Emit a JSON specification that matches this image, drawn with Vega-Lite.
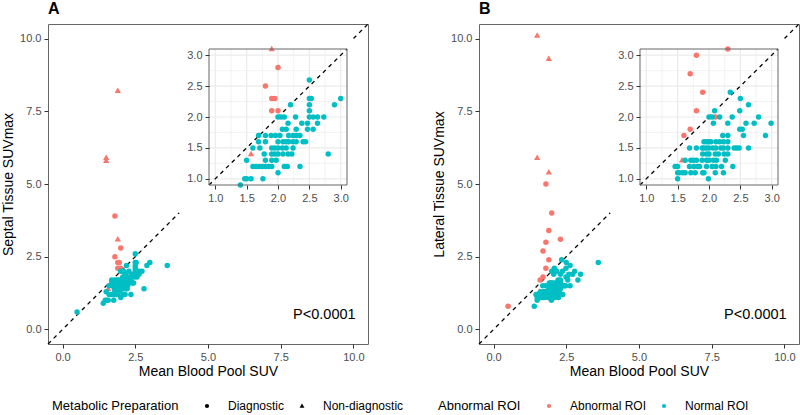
{
  "$schema": "https://vega.github.io/schema/vega-lite/v6.json",
  "background": "white",
  "padding": {"left": 1, "top": 0, "right": 0, "bottom": 0},
  "spacing": 62,
  "datasets": {
    "a": [
      {"x": 1.8, "y": 3.9, "roi": "Abnormal ROI", "prep": "Diagnostic"},
      {"x": 2.0, "y": 2.8, "roi": "Abnormal ROI", "prep": "Diagnostic"},
      {"x": 1.8, "y": 2.5, "roi": "Abnormal ROI", "prep": "Diagnostic"},
      {"x": 1.9, "y": 2.3, "roi": "Abnormal ROI", "prep": "Diagnostic"},
      {"x": 1.95, "y": 2.3, "roi": "Abnormal ROI", "prep": "Diagnostic"},
      {"x": 1.9, "y": 2.1, "roi": "Abnormal ROI", "prep": "Diagnostic"},
      {"x": 2.0, "y": 2.1, "roi": "Abnormal ROI", "prep": "Diagnostic"},
      {"x": 1.9, "y": 8.2, "roi": "Abnormal ROI", "prep": "Non-diagnostic"},
      {"x": 1.5, "y": 5.9, "roi": "Abnormal ROI", "prep": "Non-diagnostic"},
      {"x": 1.5, "y": 5.8, "roi": "Abnormal ROI", "prep": "Non-diagnostic"},
      {"x": 1.9, "y": 3.1, "roi": "Abnormal ROI", "prep": "Non-diagnostic"},
      {"x": 1.57, "y": 1.4, "roi": "Abnormal ROI", "prep": "Non-diagnostic"},
      {"x": 0.5, "y": 0.6, "roi": "Normal ROI", "prep": "Diagnostic"},
      {"x": 3.6, "y": 2.2, "roi": "Normal ROI", "prep": "Diagnostic"},
      {"x": 1.4, "y": 0.9, "roi": "Normal ROI", "prep": "Diagnostic"},
      {"x": 2.5, "y": 2.6, "roi": "Normal ROI", "prep": "Diagnostic"},
      {"x": 3.0, "y": 2.3, "roi": "Normal ROI", "prep": "Diagnostic"},
      {"x": 2.9, "y": 2.2, "roi": "Normal ROI", "prep": "Diagnostic"},
      {"x": 2.5, "y": 2.3, "roi": "Normal ROI", "prep": "Diagnostic"},
      {"x": 2.53, "y": 2.3, "roi": "Normal ROI", "prep": "Diagnostic"},
      {"x": 2.5, "y": 2.2, "roi": "Normal ROI", "prep": "Diagnostic"},
      {"x": 2.2, "y": 2.2, "roi": "Normal ROI", "prep": "Diagnostic"},
      {"x": 2.5, "y": 2.1, "roi": "Normal ROI", "prep": "Diagnostic"},
      {"x": 2.0, "y": 2.0, "roi": "Normal ROI", "prep": "Diagnostic"},
      {"x": 2.05, "y": 2.0, "roi": "Normal ROI", "prep": "Diagnostic"},
      {"x": 2.1, "y": 2.0, "roi": "Normal ROI", "prep": "Diagnostic"},
      {"x": 2.28, "y": 2.0, "roi": "Normal ROI", "prep": "Diagnostic"},
      {"x": 2.5, "y": 2.0, "roi": "Normal ROI", "prep": "Diagnostic"},
      {"x": 2.56, "y": 2.0, "roi": "Normal ROI", "prep": "Diagnostic"},
      {"x": 2.63, "y": 2.0, "roi": "Normal ROI", "prep": "Diagnostic"},
      {"x": 2.73, "y": 2.0, "roi": "Normal ROI", "prep": "Diagnostic"},
      {"x": 2.16, "y": 1.9, "roi": "Normal ROI", "prep": "Diagnostic"},
      {"x": 2.38, "y": 1.9, "roi": "Normal ROI", "prep": "Diagnostic"},
      {"x": 2.47, "y": 1.9, "roi": "Normal ROI", "prep": "Diagnostic"},
      {"x": 2.63, "y": 1.9, "roi": "Normal ROI", "prep": "Diagnostic"},
      {"x": 2.07, "y": 1.8, "roi": "Normal ROI", "prep": "Diagnostic"},
      {"x": 2.13, "y": 1.8, "roi": "Normal ROI", "prep": "Diagnostic"},
      {"x": 2.29, "y": 1.8, "roi": "Normal ROI", "prep": "Diagnostic"},
      {"x": 2.47, "y": 1.8, "roi": "Normal ROI", "prep": "Diagnostic"},
      {"x": 2.56, "y": 1.8, "roi": "Normal ROI", "prep": "Diagnostic"},
      {"x": 1.69, "y": 1.7, "roi": "Normal ROI", "prep": "Diagnostic"},
      {"x": 1.8, "y": 1.7, "roi": "Normal ROI", "prep": "Diagnostic"},
      {"x": 1.89, "y": 1.7, "roi": "Normal ROI", "prep": "Diagnostic"},
      {"x": 1.96, "y": 1.7, "roi": "Normal ROI", "prep": "Diagnostic"},
      {"x": 2.03, "y": 1.7, "roi": "Normal ROI", "prep": "Diagnostic"},
      {"x": 2.17, "y": 1.7, "roi": "Normal ROI", "prep": "Diagnostic"},
      {"x": 2.24, "y": 1.7, "roi": "Normal ROI", "prep": "Diagnostic"},
      {"x": 2.29, "y": 1.7, "roi": "Normal ROI", "prep": "Diagnostic"},
      {"x": 2.35, "y": 1.7, "roi": "Normal ROI", "prep": "Diagnostic"},
      {"x": 1.69, "y": 1.6, "roi": "Normal ROI", "prep": "Diagnostic"},
      {"x": 1.8, "y": 1.6, "roi": "Normal ROI", "prep": "Diagnostic"},
      {"x": 2.0, "y": 1.6, "roi": "Normal ROI", "prep": "Diagnostic"},
      {"x": 2.08, "y": 1.6, "roi": "Normal ROI", "prep": "Diagnostic"},
      {"x": 2.13, "y": 1.6, "roi": "Normal ROI", "prep": "Diagnostic"},
      {"x": 2.17, "y": 1.6, "roi": "Normal ROI", "prep": "Diagnostic"},
      {"x": 2.24, "y": 1.6, "roi": "Normal ROI", "prep": "Diagnostic"},
      {"x": 2.29, "y": 1.6, "roi": "Normal ROI", "prep": "Diagnostic"},
      {"x": 2.4, "y": 1.6, "roi": "Normal ROI", "prep": "Diagnostic"},
      {"x": 2.44, "y": 1.6, "roi": "Normal ROI", "prep": "Diagnostic"},
      {"x": 1.6, "y": 1.5, "roi": "Normal ROI", "prep": "Diagnostic"},
      {"x": 1.71, "y": 1.5, "roi": "Normal ROI", "prep": "Diagnostic"},
      {"x": 1.9, "y": 1.5, "roi": "Normal ROI", "prep": "Diagnostic"},
      {"x": 1.95, "y": 1.5, "roi": "Normal ROI", "prep": "Diagnostic"},
      {"x": 2.0, "y": 1.5, "roi": "Normal ROI", "prep": "Diagnostic"},
      {"x": 2.07, "y": 1.5, "roi": "Normal ROI", "prep": "Diagnostic"},
      {"x": 2.13, "y": 1.5, "roi": "Normal ROI", "prep": "Diagnostic"},
      {"x": 2.24, "y": 1.5, "roi": "Normal ROI", "prep": "Diagnostic"},
      {"x": 1.78, "y": 1.4, "roi": "Normal ROI", "prep": "Diagnostic"},
      {"x": 1.9, "y": 1.4, "roi": "Normal ROI", "prep": "Diagnostic"},
      {"x": 1.95, "y": 1.4, "roi": "Normal ROI", "prep": "Diagnostic"},
      {"x": 2.0, "y": 1.4, "roi": "Normal ROI", "prep": "Diagnostic"},
      {"x": 2.08, "y": 1.4, "roi": "Normal ROI", "prep": "Diagnostic"},
      {"x": 2.16, "y": 1.4, "roi": "Normal ROI", "prep": "Diagnostic"},
      {"x": 2.22, "y": 1.4, "roi": "Normal ROI", "prep": "Diagnostic"},
      {"x": 2.8, "y": 1.4, "roi": "Normal ROI", "prep": "Diagnostic"},
      {"x": 1.5, "y": 1.3, "roi": "Normal ROI", "prep": "Diagnostic"},
      {"x": 1.8, "y": 1.3, "roi": "Normal ROI", "prep": "Diagnostic"},
      {"x": 1.9, "y": 1.3, "roi": "Normal ROI", "prep": "Diagnostic"},
      {"x": 1.97, "y": 1.3, "roi": "Normal ROI", "prep": "Diagnostic"},
      {"x": 1.6, "y": 1.2, "roi": "Normal ROI", "prep": "Diagnostic"},
      {"x": 1.65, "y": 1.2, "roi": "Normal ROI", "prep": "Diagnostic"},
      {"x": 1.7, "y": 1.2, "roi": "Normal ROI", "prep": "Diagnostic"},
      {"x": 1.75, "y": 1.2, "roi": "Normal ROI", "prep": "Diagnostic"},
      {"x": 1.8, "y": 1.2, "roi": "Normal ROI", "prep": "Diagnostic"},
      {"x": 1.85, "y": 1.2, "roi": "Normal ROI", "prep": "Diagnostic"},
      {"x": 1.9, "y": 1.2, "roi": "Normal ROI", "prep": "Diagnostic"},
      {"x": 2.1, "y": 1.2, "roi": "Normal ROI", "prep": "Diagnostic"},
      {"x": 2.15, "y": 1.2, "roi": "Normal ROI", "prep": "Diagnostic"},
      {"x": 2.35, "y": 1.2, "roi": "Normal ROI", "prep": "Diagnostic"},
      {"x": 2.0, "y": 1.1, "roi": "Normal ROI", "prep": "Diagnostic"},
      {"x": 1.47, "y": 1.0, "roi": "Normal ROI", "prep": "Diagnostic"},
      {"x": 1.5, "y": 1.0, "roi": "Normal ROI", "prep": "Diagnostic"},
      {"x": 1.57, "y": 1.0, "roi": "Normal ROI", "prep": "Diagnostic"},
      {"x": 1.76, "y": 1.0, "roi": "Normal ROI", "prep": "Diagnostic"}
    ],
    "b": [
      {"x": 0.5, "y": 0.8, "roi": "Abnormal ROI", "prep": "Diagnostic"},
      {"x": 1.8, "y": 5.0, "roi": "Abnormal ROI", "prep": "Diagnostic"},
      {"x": 2.0, "y": 4.0, "roi": "Abnormal ROI", "prep": "Diagnostic"},
      {"x": 1.9, "y": 3.4, "roi": "Abnormal ROI", "prep": "Diagnostic"},
      {"x": 1.8, "y": 3.0, "roi": "Abnormal ROI", "prep": "Diagnostic"},
      {"x": 2.3, "y": 3.1, "roi": "Abnormal ROI", "prep": "Diagnostic"},
      {"x": 1.7, "y": 2.7, "roi": "Abnormal ROI", "prep": "Diagnostic"},
      {"x": 1.9, "y": 2.4, "roi": "Abnormal ROI", "prep": "Diagnostic"},
      {"x": 1.8, "y": 2.1, "roi": "Abnormal ROI", "prep": "Diagnostic"},
      {"x": 2.1, "y": 2.0, "roi": "Abnormal ROI", "prep": "Diagnostic"},
      {"x": 1.7, "y": 1.8, "roi": "Abnormal ROI", "prep": "Diagnostic"},
      {"x": 1.6, "y": 1.7, "roi": "Abnormal ROI", "prep": "Diagnostic"},
      {"x": 1.5, "y": 10.1, "roi": "Abnormal ROI", "prep": "Non-diagnostic"},
      {"x": 1.9, "y": 9.3, "roi": "Abnormal ROI", "prep": "Non-diagnostic"},
      {"x": 1.5, "y": 5.9, "roi": "Abnormal ROI", "prep": "Non-diagnostic"},
      {"x": 1.9, "y": 5.4, "roi": "Abnormal ROI", "prep": "Non-diagnostic"},
      {"x": 1.57, "y": 1.3, "roi": "Abnormal ROI", "prep": "Non-diagnostic"},
      {"x": 1.4, "y": 0.8, "roi": "Normal ROI", "prep": "Diagnostic"},
      {"x": 3.6, "y": 2.3, "roi": "Normal ROI", "prep": "Diagnostic"},
      {"x": 2.34, "y": 2.4, "roi": "Normal ROI", "prep": "Diagnostic"},
      {"x": 2.5, "y": 2.3, "roi": "Normal ROI", "prep": "Diagnostic"},
      {"x": 2.63, "y": 2.2, "roi": "Normal ROI", "prep": "Diagnostic"},
      {"x": 2.09, "y": 2.1, "roi": "Normal ROI", "prep": "Diagnostic"},
      {"x": 2.49, "y": 2.1, "roi": "Normal ROI", "prep": "Diagnostic"},
      {"x": 2.0, "y": 2.0, "roi": "Normal ROI", "prep": "Diagnostic"},
      {"x": 2.05, "y": 2.0, "roi": "Normal ROI", "prep": "Diagnostic"},
      {"x": 2.17, "y": 2.0, "roi": "Normal ROI", "prep": "Diagnostic"},
      {"x": 2.37, "y": 2.0, "roi": "Normal ROI", "prep": "Diagnostic"},
      {"x": 2.79, "y": 2.0, "roi": "Normal ROI", "prep": "Diagnostic"},
      {"x": 2.07, "y": 1.9, "roi": "Normal ROI", "prep": "Diagnostic"},
      {"x": 2.3, "y": 1.9, "roi": "Normal ROI", "prep": "Diagnostic"},
      {"x": 2.59, "y": 1.9, "roi": "Normal ROI", "prep": "Diagnostic"},
      {"x": 2.72, "y": 1.9, "roi": "Normal ROI", "prep": "Diagnostic"},
      {"x": 2.99, "y": 1.9, "roi": "Normal ROI", "prep": "Diagnostic"},
      {"x": 2.49, "y": 1.8, "roi": "Normal ROI", "prep": "Diagnostic"},
      {"x": 2.53, "y": 1.8, "roi": "Normal ROI", "prep": "Diagnostic"},
      {"x": 2.22, "y": 1.7, "roi": "Normal ROI", "prep": "Diagnostic"},
      {"x": 2.3, "y": 1.7, "roi": "Normal ROI", "prep": "Diagnostic"},
      {"x": 2.55, "y": 1.7, "roi": "Normal ROI", "prep": "Diagnostic"},
      {"x": 2.9, "y": 1.7, "roi": "Normal ROI", "prep": "Diagnostic"},
      {"x": 1.92, "y": 1.6, "roi": "Normal ROI", "prep": "Diagnostic"},
      {"x": 1.96, "y": 1.6, "roi": "Normal ROI", "prep": "Diagnostic"},
      {"x": 1.99, "y": 1.6, "roi": "Normal ROI", "prep": "Diagnostic"},
      {"x": 2.03, "y": 1.6, "roi": "Normal ROI", "prep": "Diagnostic"},
      {"x": 2.11, "y": 1.6, "roi": "Normal ROI", "prep": "Diagnostic"},
      {"x": 2.17, "y": 1.6, "roi": "Normal ROI", "prep": "Diagnostic"},
      {"x": 2.23, "y": 1.6, "roi": "Normal ROI", "prep": "Diagnostic"},
      {"x": 2.3, "y": 1.6, "roi": "Normal ROI", "prep": "Diagnostic"},
      {"x": 1.69, "y": 1.5, "roi": "Normal ROI", "prep": "Diagnostic"},
      {"x": 1.8, "y": 1.5, "roi": "Normal ROI", "prep": "Diagnostic"},
      {"x": 1.89, "y": 1.5, "roi": "Normal ROI", "prep": "Diagnostic"},
      {"x": 1.92, "y": 1.5, "roi": "Normal ROI", "prep": "Diagnostic"},
      {"x": 1.96, "y": 1.5, "roi": "Normal ROI", "prep": "Diagnostic"},
      {"x": 2.0, "y": 1.5, "roi": "Normal ROI", "prep": "Diagnostic"},
      {"x": 2.06, "y": 1.5, "roi": "Normal ROI", "prep": "Diagnostic"},
      {"x": 2.11, "y": 1.5, "roi": "Normal ROI", "prep": "Diagnostic"},
      {"x": 2.19, "y": 1.5, "roi": "Normal ROI", "prep": "Diagnostic"},
      {"x": 2.23, "y": 1.5, "roi": "Normal ROI", "prep": "Diagnostic"},
      {"x": 2.3, "y": 1.5, "roi": "Normal ROI", "prep": "Diagnostic"},
      {"x": 2.4, "y": 1.5, "roi": "Normal ROI", "prep": "Diagnostic"},
      {"x": 2.44, "y": 1.5, "roi": "Normal ROI", "prep": "Diagnostic"},
      {"x": 2.48, "y": 1.5, "roi": "Normal ROI", "prep": "Diagnostic"},
      {"x": 2.63, "y": 1.5, "roi": "Normal ROI", "prep": "Diagnostic"},
      {"x": 1.9, "y": 1.4, "roi": "Normal ROI", "prep": "Diagnostic"},
      {"x": 1.96, "y": 1.4, "roi": "Normal ROI", "prep": "Diagnostic"},
      {"x": 2.0, "y": 1.4, "roi": "Normal ROI", "prep": "Diagnostic"},
      {"x": 2.1, "y": 1.4, "roi": "Normal ROI", "prep": "Diagnostic"},
      {"x": 2.15, "y": 1.4, "roi": "Normal ROI", "prep": "Diagnostic"},
      {"x": 2.24, "y": 1.4, "roi": "Normal ROI", "prep": "Diagnostic"},
      {"x": 2.3, "y": 1.4, "roi": "Normal ROI", "prep": "Diagnostic"},
      {"x": 1.62, "y": 1.3, "roi": "Normal ROI", "prep": "Diagnostic"},
      {"x": 1.71, "y": 1.3, "roi": "Normal ROI", "prep": "Diagnostic"},
      {"x": 1.75, "y": 1.3, "roi": "Normal ROI", "prep": "Diagnostic"},
      {"x": 1.8, "y": 1.3, "roi": "Normal ROI", "prep": "Diagnostic"},
      {"x": 1.89, "y": 1.3, "roi": "Normal ROI", "prep": "Diagnostic"},
      {"x": 1.96, "y": 1.3, "roi": "Normal ROI", "prep": "Diagnostic"},
      {"x": 2.0, "y": 1.3, "roi": "Normal ROI", "prep": "Diagnostic"},
      {"x": 2.07, "y": 1.3, "roi": "Normal ROI", "prep": "Diagnostic"},
      {"x": 2.12, "y": 1.3, "roi": "Normal ROI", "prep": "Diagnostic"},
      {"x": 2.26, "y": 1.3, "roi": "Normal ROI", "prep": "Diagnostic"},
      {"x": 1.46, "y": 1.2, "roi": "Normal ROI", "prep": "Diagnostic"},
      {"x": 1.5, "y": 1.2, "roi": "Normal ROI", "prep": "Diagnostic"},
      {"x": 1.69, "y": 1.2, "roi": "Normal ROI", "prep": "Diagnostic"},
      {"x": 1.76, "y": 1.2, "roi": "Normal ROI", "prep": "Diagnostic"},
      {"x": 1.82, "y": 1.2, "roi": "Normal ROI", "prep": "Diagnostic"},
      {"x": 1.85, "y": 1.2, "roi": "Normal ROI", "prep": "Diagnostic"},
      {"x": 1.96, "y": 1.2, "roi": "Normal ROI", "prep": "Diagnostic"},
      {"x": 2.05, "y": 1.2, "roi": "Normal ROI", "prep": "Diagnostic"},
      {"x": 2.11, "y": 1.2, "roi": "Normal ROI", "prep": "Diagnostic"},
      {"x": 2.2, "y": 1.2, "roi": "Normal ROI", "prep": "Diagnostic"},
      {"x": 2.38, "y": 1.2, "roi": "Normal ROI", "prep": "Diagnostic"},
      {"x": 1.5, "y": 1.1, "roi": "Normal ROI", "prep": "Diagnostic"},
      {"x": 1.53, "y": 1.1, "roi": "Normal ROI", "prep": "Diagnostic"},
      {"x": 1.58, "y": 1.1, "roi": "Normal ROI", "prep": "Diagnostic"},
      {"x": 1.62, "y": 1.1, "roi": "Normal ROI", "prep": "Diagnostic"},
      {"x": 1.71, "y": 1.1, "roi": "Normal ROI", "prep": "Diagnostic"},
      {"x": 1.78, "y": 1.1, "roi": "Normal ROI", "prep": "Diagnostic"},
      {"x": 1.9, "y": 1.1, "roi": "Normal ROI", "prep": "Diagnostic"},
      {"x": 1.92, "y": 1.1, "roi": "Normal ROI", "prep": "Diagnostic"},
      {"x": 2.1, "y": 1.1, "roi": "Normal ROI", "prep": "Diagnostic"},
      {"x": 2.23, "y": 1.1, "roi": "Normal ROI", "prep": "Diagnostic"},
      {"x": 1.5, "y": 1.0, "roi": "Normal ROI", "prep": "Diagnostic"},
      {"x": 1.99, "y": 1.0, "roi": "Normal ROI", "prep": "Diagnostic"}
    ],
    "grid": [{"v": 1}, {"v": 1.25}, {"v": 1.5}, {"v": 1.75}, {"v": 2}, {"v": 2.25}, {"v": 2.5}, {"v": 2.75}, {"v": 3}],
    "one": [{}]
  },
  "hconcat": [
    {
      "width": 320, "height": 320,
      "title": {"text": "A"},
      "layer": [
        {
          "layer": [
            {
              "data": {"name": "one"},
              "mark": {"type": "rule", "strokeDash": [4, 4], "strokeWidth": 1.3, "color": "black"},
              "encoding": {
                "x": {"datum": -0.5, "type": "quantitative", "scale": {"domain": [-0.5, 10.5], "nice": false, "zero": false}},
                "y": {"datum": -0.5, "type": "quantitative", "scale": {"domain": [-0.5, 10.5], "nice": false, "zero": false}},
                "x2": {"datum": 10.5},
                "y2": {"datum": 10.5}
              }
            },
            {
              "data": {"name": "a"},
              "mark": {"type": "point", "filled": true, "size": 30, "opacity": 1},
              "encoding": {
                "x": {"field": "x", "type": "quantitative", "scale": {"domain": [-0.5, 10.5], "nice": false, "zero": false},
                  "axis": {"title": "Mean Blood Pool SUV", "titlePadding": 2, "values": [0, 1.25, 2.5, 3.75, 5, 6.25, 7.5, 8.75, 10], "labelExpr": "datum.value % 2.5 == 0 ? format(datum.value, '.1f') : ''", "gridWidth": {"condition": {"test": "datum.value % 2.5 != 0", "value": 0.6}, "value": 1.2}, "tickOpacity": {"condition": {"test": "datum.value % 2.5 != 0", "value": 0}, "value": 1}}},
                "y": {"field": "y", "type": "quantitative", "scale": {"domain": [-0.5, 10.5], "nice": false, "zero": false},
                  "axis": {"title": "Septal Tissue SUVmax", "values": [0, 1.25, 2.5, 3.75, 5, 6.25, 7.5, 8.75, 10], "labelExpr": "datum.value % 2.5 == 0 ? format(datum.value, '.1f') : ''", "gridWidth": {"condition": {"test": "datum.value % 2.5 != 0", "value": 0.6}, "value": 1.2}, "tickOpacity": {"condition": {"test": "datum.value % 2.5 != 0", "value": 0}, "value": 1}}},
                "color": {"field": "roi", "type": "nominal", "scale": {"domain": ["Abnormal ROI", "Normal ROI"], "range": ["#F8766D", "#00BFC4"]}, "legend": {"title": "Abnormal ROI", "orient": "none", "legendX": 390, "legendY": 376}},
                "shape": {"field": "prep", "type": "nominal", "scale": {"domain": ["Diagnostic", "Non-diagnostic"], "range": ["circle", "M0,-1.2L1.15,0.8L-1.15,0.8Z"]}, "legend": {"title": "Metabolic Preparation", "orient": "none", "legendX": 4, "legendY": 376, "symbolFillColor": "black", "symbolStrokeColor": "black"}}
              }
            },
            {
              "data": {"name": "one"},
              "mark": {"type": "rect", "fill": "white", "strokeWidth": 0},
              "encoding": {"x": {"datum": 4}, "x2": {"datum": 10}, "y": {"datum": 4}, "y2": {"datum": 10}}
            },
            {
              "data": {"name": "one"},
              "mark": {"type": "text", "fontSize": 14.5, "fill": "black", "align": "center", "baseline": "middle"},
              "encoding": {"x": {"datum": 9}, "y": {"datum": 0.5}, "text": {"value": "P<0.0001"}}
            }
          ]
        },
        {
          "layer": [
            {
              "data": {"name": "grid"},
              "mark": {"type": "rule", "color": "#ebebeb"},
              "encoding": {
                "x": {"field": "v", "type": "quantitative", "title": null, "scale": {"domain": [0.9, 3.1], "range": [161, 299], "nice": false, "zero": false}},
                "y": {"datum": 0.9, "type": "quantitative", "scale": {"domain": [0.9, 3.1], "range": [161, 25], "nice": false, "zero": false}},
                "y2": {"datum": 3.1},
                "strokeWidth": {"condition": {"test": "datum.v % 0.5 != 0", "value": 0.6}, "value": 1.2}
              }
            },
            {
              "data": {"name": "grid"},
              "mark": {"type": "rule", "color": "#ebebeb"},
              "encoding": {
                "y": {"field": "v", "type": "quantitative", "title": null},
                "x": {"datum": 0.9, "type": "quantitative"},
                "x2": {"datum": 3.1},
                "strokeWidth": {"condition": {"test": "datum.v % 0.5 != 0", "value": 0.6}, "value": 1.2}
              }
            },
            {
              "data": {"name": "one"},
              "mark": {"type": "rule", "strokeDash": [4, 4], "strokeWidth": 1.3, "color": "black"},
              "encoding": {"x": {"datum": 0.9, "type": "quantitative"}, "y": {"datum": 0.9, "type": "quantitative"}, "x2": {"datum": 3.1}, "y2": {"datum": 3.1}}
            },
            {
              "data": {"name": "a"},
              "transform": [{"filter": "datum.x >= 0.9 && datum.x <= 3.1 && datum.y >= 0.9 && datum.y <= 3.1"}],
              "mark": {"type": "point", "filled": true, "size": 30, "opacity": 1},
              "encoding": {
                "x": {"field": "x", "type": "quantitative", "axis": {"title": null, "orient": "bottom", "offset": -159, "values": [1, 1.5, 2, 2.5, 3], "format": ".1f", "grid": false, "domain": false, "zindex": 1}},
                "y": {"field": "y", "type": "quantitative", "axis": {"title": null, "orient": "left", "offset": -161, "values": [1, 1.5, 2, 2.5, 3], "format": ".1f", "grid": false, "domain": false, "zindex": 1}},
                "color": {"field": "roi", "type": "nominal", "scale": {"domain": ["Abnormal ROI", "Normal ROI"], "range": ["#F8766D", "#00BFC4"]}, "legend": {"title": "Abnormal ROI", "orient": "none", "legendX": 390, "legendY": 376}},
                "shape": {"field": "prep", "type": "nominal", "scale": {"domain": ["Diagnostic", "Non-diagnostic"], "range": ["circle", "M0,-1.2L1.15,0.8L-1.15,0.8Z"]}, "legend": {"title": "Metabolic Preparation", "orient": "none", "legendX": 4, "legendY": 376, "symbolFillColor": "black", "symbolStrokeColor": "black"}}
              }
            },
            {
              "data": {"name": "one"},
              "mark": {"type": "rect", "fillOpacity": 0, "stroke": "#666", "strokeWidth": 1},
              "encoding": {"x": {"datum": 0.9, "type": "quantitative"}, "x2": {"datum": 3.1}, "y": {"datum": 0.9, "type": "quantitative"}, "y2": {"datum": 3.1}}
            }
          ]
        }
      ],
      "resolve": {"scale": {"x": "independent", "y": "independent"}, "axis": {"x": "independent", "y": "independent"}}
    },
    {
      "width": 320, "height": 320,
      "title": {"text": "B"},
      "layer": [
        {
          "layer": [
            {
              "data": {"name": "one"},
              "mark": {"type": "rule", "strokeDash": [4, 4], "strokeWidth": 1.3, "color": "black"},
              "encoding": {
                "x": {"datum": -0.5, "type": "quantitative", "scale": {"domain": [-0.5, 10.5], "nice": false, "zero": false}},
                "y": {"datum": -0.5, "type": "quantitative", "scale": {"domain": [-0.5, 10.5], "nice": false, "zero": false}},
                "x2": {"datum": 10.5},
                "y2": {"datum": 10.5}
              }
            },
            {
              "data": {"name": "b"},
              "mark": {"type": "point", "filled": true, "size": 30, "opacity": 1},
              "encoding": {
                "x": {"field": "x", "type": "quantitative", "scale": {"domain": [-0.5, 10.5], "nice": false, "zero": false},
                  "axis": {"title": "Mean Blood Pool SUV", "titlePadding": 2, "values": [0, 1.25, 2.5, 3.75, 5, 6.25, 7.5, 8.75, 10], "labelExpr": "datum.value % 2.5 == 0 ? format(datum.value, '.1f') : ''", "gridWidth": {"condition": {"test": "datum.value % 2.5 != 0", "value": 0.6}, "value": 1.2}, "tickOpacity": {"condition": {"test": "datum.value % 2.5 != 0", "value": 0}, "value": 1}}},
                "y": {"field": "y", "type": "quantitative", "scale": {"domain": [-0.5, 10.5], "nice": false, "zero": false},
                  "axis": {"title": "Lateral Tissue SUVmax", "values": [0, 1.25, 2.5, 3.75, 5, 6.25, 7.5, 8.75, 10], "labelExpr": "datum.value % 2.5 == 0 ? format(datum.value, '.1f') : ''", "gridWidth": {"condition": {"test": "datum.value % 2.5 != 0", "value": 0.6}, "value": 1.2}, "tickOpacity": {"condition": {"test": "datum.value % 2.5 != 0", "value": 0}, "value": 1}}},
                "color": {"field": "roi", "type": "nominal", "scale": {"domain": ["Abnormal ROI", "Normal ROI"], "range": ["#F8766D", "#00BFC4"]}, "legend": {"title": "Abnormal ROI", "orient": "none", "legendX": 390, "legendY": 376}},
                "shape": {"field": "prep", "type": "nominal", "scale": {"domain": ["Diagnostic", "Non-diagnostic"], "range": ["circle", "M0,-1.2L1.15,0.8L-1.15,0.8Z"]}, "legend": {"title": "Metabolic Preparation", "orient": "none", "legendX": 4, "legendY": 376, "symbolFillColor": "black", "symbolStrokeColor": "black"}}
              }
            },
            {
              "data": {"name": "one"},
              "mark": {"type": "rect", "fill": "white", "strokeWidth": 0},
              "encoding": {"x": {"datum": 4}, "x2": {"datum": 10}, "y": {"datum": 4}, "y2": {"datum": 10}}
            },
            {
              "data": {"name": "one"},
              "mark": {"type": "text", "fontSize": 14.5, "fill": "black", "align": "center", "baseline": "middle"},
              "encoding": {"x": {"datum": 9}, "y": {"datum": 0.5}, "text": {"value": "P<0.0001"}}
            }
          ]
        },
        {
          "layer": [
            {
              "data": {"name": "grid"},
              "mark": {"type": "rule", "color": "#ebebeb"},
              "encoding": {
                "x": {"field": "v", "type": "quantitative", "title": null, "scale": {"domain": [0.9, 3.1], "range": [161, 299], "nice": false, "zero": false}},
                "y": {"datum": 0.9, "type": "quantitative", "scale": {"domain": [0.9, 3.1], "range": [161, 25], "nice": false, "zero": false}},
                "y2": {"datum": 3.1},
                "strokeWidth": {"condition": {"test": "datum.v % 0.5 != 0", "value": 0.6}, "value": 1.2}
              }
            },
            {
              "data": {"name": "grid"},
              "mark": {"type": "rule", "color": "#ebebeb"},
              "encoding": {
                "y": {"field": "v", "type": "quantitative", "title": null},
                "x": {"datum": 0.9, "type": "quantitative"},
                "x2": {"datum": 3.1},
                "strokeWidth": {"condition": {"test": "datum.v % 0.5 != 0", "value": 0.6}, "value": 1.2}
              }
            },
            {
              "data": {"name": "one"},
              "mark": {"type": "rule", "strokeDash": [4, 4], "strokeWidth": 1.3, "color": "black"},
              "encoding": {"x": {"datum": 0.9, "type": "quantitative"}, "y": {"datum": 0.9, "type": "quantitative"}, "x2": {"datum": 3.1}, "y2": {"datum": 3.1}}
            },
            {
              "data": {"name": "b"},
              "transform": [{"filter": "datum.x >= 0.9 && datum.x <= 3.1 && datum.y >= 0.9 && datum.y <= 3.1"}],
              "mark": {"type": "point", "filled": true, "size": 30, "opacity": 1},
              "encoding": {
                "x": {"field": "x", "type": "quantitative", "axis": {"title": null, "orient": "bottom", "offset": -159, "values": [1, 1.5, 2, 2.5, 3], "format": ".1f", "grid": false, "domain": false, "zindex": 1}},
                "y": {"field": "y", "type": "quantitative", "axis": {"title": null, "orient": "left", "offset": -161, "values": [1, 1.5, 2, 2.5, 3], "format": ".1f", "grid": false, "domain": false, "zindex": 1}},
                "color": {"field": "roi", "type": "nominal", "scale": {"domain": ["Abnormal ROI", "Normal ROI"], "range": ["#F8766D", "#00BFC4"]}, "legend": {"title": "Abnormal ROI", "orient": "none", "legendX": 390, "legendY": 376}},
                "shape": {"field": "prep", "type": "nominal", "scale": {"domain": ["Diagnostic", "Non-diagnostic"], "range": ["circle", "M0,-1.2L1.15,0.8L-1.15,0.8Z"]}, "legend": {"title": "Metabolic Preparation", "orient": "none", "legendX": 4, "legendY": 376, "symbolFillColor": "black", "symbolStrokeColor": "black"}}
              }
            },
            {
              "data": {"name": "one"},
              "mark": {"type": "rect", "fillOpacity": 0, "stroke": "#666", "strokeWidth": 1},
              "encoding": {"x": {"datum": 0.9, "type": "quantitative"}, "x2": {"datum": 3.1}, "y": {"datum": 0.9, "type": "quantitative"}, "y2": {"datum": 3.1}}
            }
          ]
        }
      ],
      "resolve": {"scale": {"x": "independent", "y": "independent"}, "axis": {"x": "independent", "y": "independent"}}
    }
  ],
  "config": {
    "font": "Liberation Sans",
    "view": {"stroke": "#666", "strokeWidth": 1},
    "title": {"fontSize": 16, "fontWeight": "bold", "anchor": "start", "frame": "group", "color": "black", "offset": 6},
    "axis": {"domain": false, "gridColor": "#ebebeb", "tickColor": "#333", "tickSize": 4, "labelColor": "#4d4d4d", "labelFontSize": 11, "labelPadding": 3, "titleFontSize": 14, "titleFontWeight": "normal", "titleColor": "black", "titlePadding": 4},
    "legend": {"direction": "horizontal", "titleOrient": "left", "titleFontSize": 13, "titleFontWeight": "normal", "titleColor": "black", "labelFontSize": 12, "labelColor": "black", "symbolSize": 18, "symbolStrokeWidth": 0, "columnPadding": 11, "titlePadding": 22, "labelOffset": 15}
  }
}
